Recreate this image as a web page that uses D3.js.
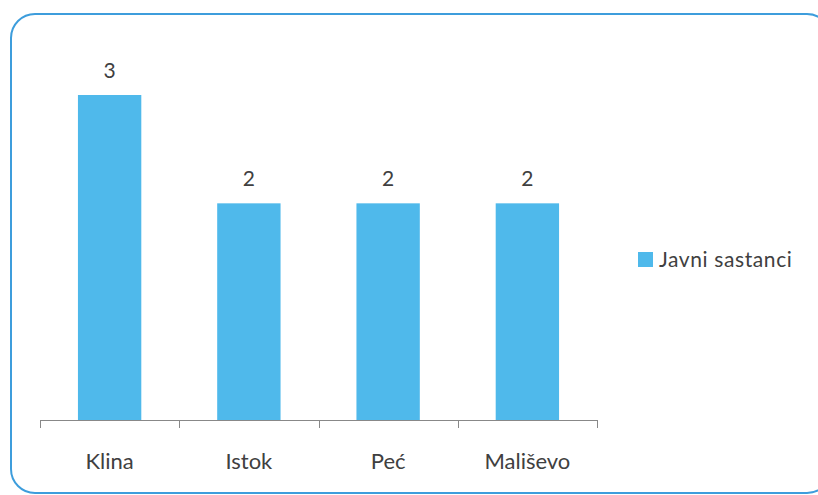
<!DOCTYPE html>
<html>
<head>
<meta charset="utf-8">
<script src="https://cdn.jsdelivr.net/npm/d3@7"></script>
<style>
  body { margin: 0; background: #fff; }
  svg { display: block; font-family: Lato, "Open Sans", sans-serif; }
</style>
</head>
<body>
<div id="chart"></div>
<script>
const width = 818;
const height = 495;

// data
const categories = ["Klina", "Istok", "Peć", "Mališevo"];
const values = [3, 2, 2, 2];
const seriesName = "Javni sastanci";

const barColor = "#4fb9eb";
const textColor = "#404040";

const svg = d3.select("#chart").append("svg")
    .attr("width", width)
    .attr("height", height);

// rounded frame around the chart
svg.append("rect")
    .attr("x", 11)
    .attr("y", 14)
    .attr("width", 820)
    .attr("height", 479)
    .attr("rx", 24)
    .attr("fill", "none")
    .attr("stroke", "#3d9ddc")
    .attr("stroke-width", 2);

const x = d3.scaleBand()
    .domain(categories)
    .range([40, 597])
    .paddingInner(0.545)
    .paddingOuter(0.2725);

const y = d3.scaleLinear()
    .domain([0, 3])
    .range([420, 95]);

// bars
svg.selectAll("rect.bar")
    .data(categories)
    .enter()
    .append("rect")
    .attr("class", "bar")
    .attr("x", d => x(d))
    .attr("y", (d, i) => y(values[i]))
    .attr("width", x.bandwidth())
    .attr("height", (d, i) => y(0) - y(values[i]))
    .attr("fill", barColor);

// value labels
svg.selectAll("text.val")
    .data(categories)
    .enter()
    .append("text")
    .attr("class", "val")
    .attr("x", d => x(d) + x.bandwidth() / 2)
    .attr("y", (d, i) => y(values[i]) - 17)
    .attr("text-anchor", "middle")
    .attr("font-size", 21)
    .attr("fill", textColor)
    .text((d, i) => values[i]);

// category axis
const axisX = d3.scaleLinear().domain([0, categories.length]).range([40, 597]);
const axis = svg.append("g");
axis.append("line")
    .attr("x1", 40).attr("x2", 597)
    .attr("y1", 420.5).attr("y2", 420.5)
    .attr("stroke", "#888").attr("stroke-width", 1);
axis.selectAll("line.tick")
    .data(d3.range(categories.length + 1))
    .enter()
    .append("line")
    .attr("class", "tick")
    .attr("x1", d => Math.round(axisX(d)) + 0.5)
    .attr("x2", d => Math.round(axisX(d)) + 0.5)
    .attr("y1", 420)
    .attr("y2", 428)
    .attr("stroke", "#888");

axis.selectAll("text")
    .data(categories)
    .enter()
    .append("text")
    .attr("x", d => x(d) + x.bandwidth() / 2)
    .attr("y", 469)
    .attr("text-anchor", "middle")
    .attr("font-size", 22)
    .attr("fill", textColor)
    .text(d => d);

// legend
const legend = svg.append("g").attr("transform", "translate(638,252)");
legend.append("rect")
    .attr("width", 15)
    .attr("height", 15)
    .attr("fill", barColor);
legend.append("text")
    .attr("x", 21)
    .attr("y", 15)
    .attr("font-size", 21)
    .attr("letter-spacing", 0.6)
    .attr("fill", textColor)
    .text(seriesName);
</script>
</body>
</html>
